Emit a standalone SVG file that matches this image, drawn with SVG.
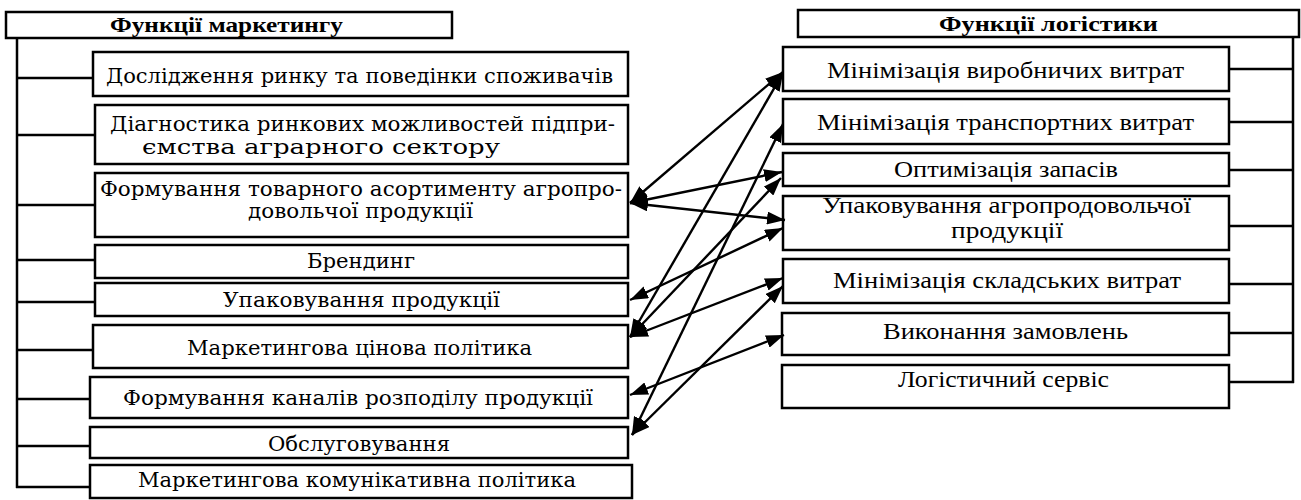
<svg xmlns="http://www.w3.org/2000/svg" width="1301" height="500" viewBox="0 0 1301 500">
<defs>
<marker id="ah" viewBox="0 0 18 13" refX="18" refY="6.5" markerWidth="18" markerHeight="13" markerUnits="userSpaceOnUse" orient="auto-start-reverse">
<path d="M0,0 L18,6.5 L0,13 z" fill="#000"/>
</marker>
</defs>
<style>
.box{fill:#fff;stroke:#000;stroke-width:2.5}
.bus line{stroke:#000;stroke-width:2.5}
.arrows line{stroke:#000;stroke-width:2.4;marker-start:url(#ah);marker-end:url(#ah)}
</style>
<rect width="1301" height="500" fill="#fff"/>

<g class="bus" id="buses">
<line x1="17" y1="38" x2="17" y2="488"/>
<line x1="16" y1="78" x2="93" y2="78"/>
<line x1="16" y1="135" x2="95" y2="135"/>
<line x1="16" y1="205" x2="95" y2="205"/>
<line x1="16" y1="260" x2="95" y2="260"/>
<line x1="16" y1="302" x2="95" y2="302"/>
<line x1="16" y1="350" x2="93" y2="350"/>
<line x1="16" y1="399" x2="90" y2="399"/>
<line x1="16" y1="446" x2="90" y2="446"/>
<line x1="16" y1="487" x2="90" y2="487"/>
<line x1="1293" y1="37" x2="1293" y2="383"/>
<line x1="1229" y1="69" x2="1294" y2="69"/>
<line x1="1229" y1="122" x2="1294" y2="122"/>
<line x1="1229" y1="170" x2="1294" y2="170"/>
<line x1="1229" y1="226" x2="1294" y2="226"/>
<line x1="1229" y1="284" x2="1294" y2="284"/>
<line x1="1229" y1="333" x2="1294" y2="333"/>
<line x1="1229" y1="382" x2="1294" y2="382"/>
</g>

<g font-family="'Liberation Serif', 'Times New Roman', serif" font-weight="bold" font-size="22" fill="#000">
<g id="m-title"><rect class="box" x="6" y="12" width="446" height="26"/><text x="110" y="32" textLength="233" lengthAdjust="spacingAndGlyphs">Функції маркетингу</text></g>
<g id="l-title"><rect class="box" x="798" y="10" width="501" height="27"/><text x="939" y="31" textLength="219" lengthAdjust="spacingAndGlyphs">Функції логістики</text></g>
</g>

<g font-family="'DejaVu Serif', serif" font-size="20" fill="#000">
<g id="m1"><rect class="box" x="93" y="52" width="535" height="44"/><text x="106" y="83" textLength="507" lengthAdjust="spacingAndGlyphs">Дослідження ринку та поведінки споживачів</text></g>
<g id="m2"><rect class="box" x="95" y="105" width="533" height="59"/><text x="110" y="131" textLength="505" lengthAdjust="spacingAndGlyphs">Діагностика ринкових можливостей підпри-</text><text x="142" y="154" textLength="358" lengthAdjust="spacingAndGlyphs">ємства аграрного сектору</text></g>
<g id="m3"><rect class="box" x="95" y="173" width="533" height="64"/><text x="100" y="196" textLength="522" lengthAdjust="spacingAndGlyphs">Формування товарного асортименту агропро-</text><text x="248" y="218" textLength="225" lengthAdjust="spacingAndGlyphs">довольчої продукції</text></g>
<g id="m4"><rect class="box" x="95" y="245" width="533" height="33"/><text x="307" y="268" textLength="108" lengthAdjust="spacingAndGlyphs">Брендинг</text></g>
<g id="m5"><rect class="box" x="95" y="283" width="533" height="33"/><text x="223" y="307" textLength="277" lengthAdjust="spacingAndGlyphs">Упаковування продукції</text></g>
<g id="m6"><rect class="box" x="93" y="325" width="535" height="43"/><text x="187" y="355" textLength="345" lengthAdjust="spacingAndGlyphs">Маркетингова цінова політика</text></g>
<g id="m7"><rect class="box" x="90" y="377" width="538" height="41"/><text x="123" y="405" textLength="470" lengthAdjust="spacingAndGlyphs">Формування каналів розподілу продукції</text></g>
<g id="m8"><rect class="box" x="90" y="427" width="538" height="31"/><text x="268" y="451" textLength="182" lengthAdjust="spacingAndGlyphs">Обслуговування</text></g>
<g id="m9"><rect class="box" x="90" y="465" width="542" height="33"/><text x="138" y="487" textLength="438" lengthAdjust="spacingAndGlyphs">Маркетингова комунікативна політика</text></g>
</g>

<g font-family="'Liberation Serif', 'Times New Roman', serif" font-size="24" fill="#000">
<g id="l1"><rect class="box" x="783" y="47" width="446" height="44"/><text x="827" y="78" textLength="357" lengthAdjust="spacingAndGlyphs">Мінімізація виробничих витрат</text></g>
<g id="l2"><rect class="box" x="783" y="99" width="446" height="45"/><text x="817" y="130" textLength="377" lengthAdjust="spacingAndGlyphs">Мінімізація транспортних витрат</text></g>
<g id="l3"><rect class="box" x="783" y="153" width="446" height="33"/><text x="894" y="177" textLength="224" lengthAdjust="spacingAndGlyphs">Оптимізація запасів</text></g>
<g id="l4"><rect class="box" x="783" y="196" width="446" height="54"/><text x="822" y="213" textLength="369" lengthAdjust="spacingAndGlyphs">Упаковування агропродовольчої</text><text x="951" y="238" textLength="112" lengthAdjust="spacingAndGlyphs">продукції</text></g>
<g id="l5"><rect class="box" x="783" y="259" width="446" height="44"/><text x="833" y="288" textLength="348" lengthAdjust="spacingAndGlyphs">Мінімізація складських витрат</text></g>
<g id="l6"><rect class="box" x="782" y="313" width="447" height="42"/><text x="883" y="339" textLength="245" lengthAdjust="spacingAndGlyphs">Виконання замовлень</text></g>
<g id="l7"><rect class="box" x="782" y="365" width="447" height="43"/><text x="898" y="387" textLength="211" lengthAdjust="spacingAndGlyphs">Логістичний сервіс</text></g>
</g>

<g class="arrows" id="connectors">
<line x1="630" y1="203" x2="783" y2="72"/>
<line x1="630" y1="203" x2="782" y2="172"/>
<line x1="630" y1="203" x2="785" y2="220"/>
<line x1="630" y1="300" x2="783" y2="228"/>
<line x1="630" y1="337" x2="783" y2="73"/>
<line x1="630" y1="337" x2="781" y2="178"/>
<line x1="630" y1="337" x2="783" y2="278"/>
<line x1="630" y1="395" x2="784" y2="335"/>
<line x1="632" y1="435" x2="783" y2="124"/>
<line x1="632" y1="435" x2="783" y2="286"/>
</g>
</svg>
